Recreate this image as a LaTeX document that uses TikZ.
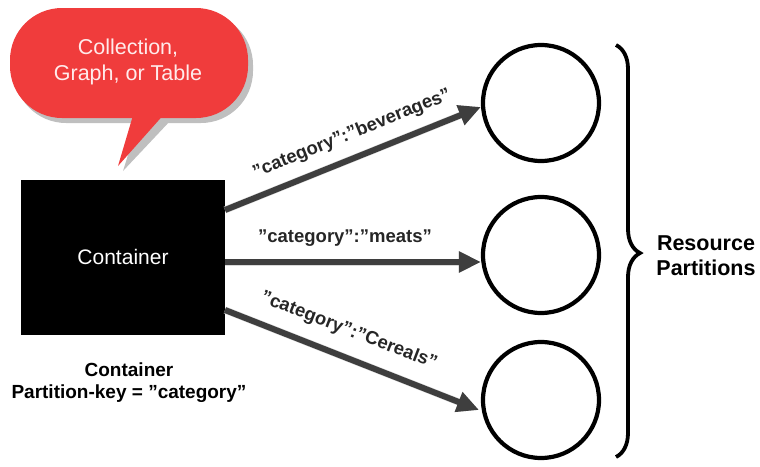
\documentclass[tikz,border=0pt]{standalone}
\usepackage{fontspec}
\setmainfont{Liberation Sans}
\usetikzlibrary{arrows.meta,decorations.pathreplacing,calc}
\definecolor{bubblered}{HTML}{F03C3C}
\definecolor{arrowgray}{HTML}{3E3E3E}
\newcommand{\qt}{\char34}
\begin{document}
\begin{tikzpicture}[x=1pt,y=-1pt,
  flow/.style={draw=arrowgray,line width=6pt,-{Triangle[length=22pt,width=20pt]}},
  flowshadow/.style={draw=black!15,line width=7pt,-{Triangle[length=22pt,width=20pt]},shift={(2pt,-4pt)}},
  keylabel/.style={font=\bfseries\fontsize{18.5}{21}\selectfont,text=black!85,inner sep=1pt},
  part/.style={circle,draw=black,line width=4.2pt,minimum size=116pt,inner sep=0pt},
  caption/.style={font=\bfseries\fontsize{19}{22}\selectfont,align=center}]
\useasboundingbox (0,0) rectangle (760,466);
% speech bubble
\fill[black!25] (139,120) -- (171,120) -- (123,171) -- cycle;
\fill[black!25,rounded corners=52pt] (14,13) rectangle (253,123);
\node[fill=bubblered,rounded corners=52pt,minimum width=238pt,minimum height=110pt,inner sep=0pt] (bubble) at (129,63) {};
\fill[bubblered] (134,112) -- (166,112) -- (118,166) -- cycle;
\node[text=white!92!red,font=\fontsize{21.5}{26}\selectfont,align=center] (bubbletext) at (128,62) {Collection,\\Graph, or Table};
% container
\node[fill=black,minimum width=204pt,minimum height=155pt,inner sep=0pt,text=white,font=\fontsize{21}{25}\selectfont] (cont) at (123,257) {Container};
\node[caption] (contcap) at (129,383) {Container\\Partition-key = \qt category\qt};
% partitions
\node[part] (p1) at (541,103) {};
\node[part] (p2) at (541,255) {};
\node[part] (p3) at (541,400) {};
% arrows
\coordinate (a1) at (225,210);
\coordinate (a2) at (225,262);
\coordinate (a3) at (225,310);
\coordinate (e1) at (p1.west |- 0,107);
\coordinate (e2) at (p2.west |- a2);
\coordinate (e3) at ($(p3.center)+(-62,10)$);
\foreach \s/\e in {a1/e1,a2/e2,a3/e3} \draw[flowshadow] (\s) -- (\e);
\draw[flow] (a1) -- (e1);
\draw[flow] (a2) -- (e2);
\draw[flow] (a3) -- (e3);
\node[keylabel,rotate=22] (l1) at (352,134) {\qt category\qt:\qt beverages\qt};
\node[keylabel] (l2) at (345,238) {\qt category\qt:\qt meats\qt};
\node[keylabel,rotate=-21] (l3) at (349,331) {\qt category\qt:\qt Cereals\qt};
% brace
\draw[line width=3.8pt,decorate,decoration={brace,amplitude=24pt,aspect=0.505}] (616,45) -- (616,457);
\node[caption,font=\bfseries\fontsize{21.5}{25}\selectfont] (res) at (706,256) {Resource\\Partitions};
\end{tikzpicture}
\end{document}
